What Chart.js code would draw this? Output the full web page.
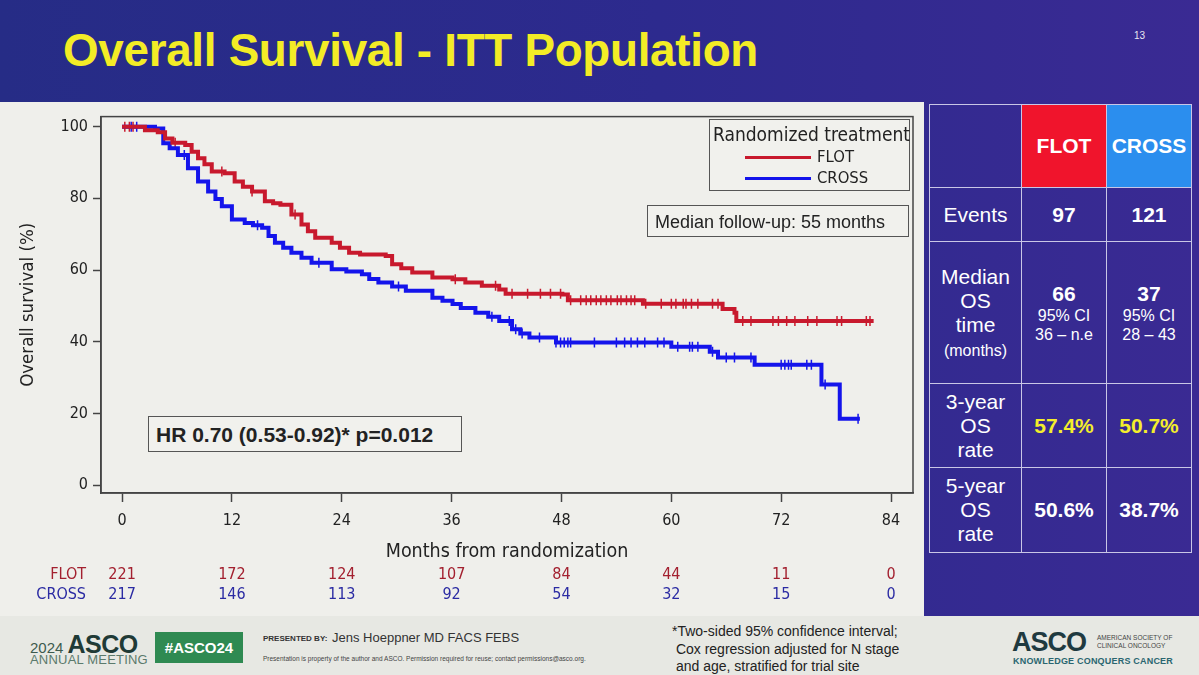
<!DOCTYPE html>
<html>
<head>
<meta charset="utf-8">
<script src="https://cdn.jsdelivr.net/npm/chart.js@4.4.1/dist/chart.umd.min.js"></script>
<style>
  body { margin: 0; width: 1199px; height: 675px; overflow: hidden; font-family: "Liberation Sans", Arial, sans-serif; }
  #slide { position: relative; width: 1199px; height: 675px; background: linear-gradient(90deg, #262c86 0%, #2d2a8e 55%, #3a2a93 100%); }
  #title { position: absolute; left: 63px; top: 25px; color: #f3ec26; font-weight: bold; font-size: 45.8px; letter-spacing: -0.3px; white-space: nowrap; }
  #pageno { position: absolute; left: 1134px; top: 30px; color: #e8e8f0; font-size: 10px; }
  #panel { position: absolute; left: 0; top: 102px; width: 924px; height: 573px; background: #efefeb; }
  #strip { position: absolute; left: 0; top: 616px; width: 1199px; height: 59px; background: #e7e8e3; }
  #chartWrap { position: absolute; left: 0; top: 102px; width: 925px; height: 513px; }
  .box { position: absolute; border: 1px solid #555; background: #f1f1ed; color: #222; white-space: nowrap; }
  #legend { left: 709px; top: 119px; width: 199px; height: 70px; font-family: "Liberation Sans Narrow", "DejaVu Sans Condensed", sans-serif; }
  #legend .hd { position: absolute; left: 3px; top: 3px; font-size: 19px; }
  #legend .row { position: absolute; left: 35px; font-size: 16.5px; }
  #legend .sw { display: inline-block; width: 66px; height: 3px; vertical-align: middle; margin-right: 6px; }
  #median { left: 647px; top: 205px; width: 262px; height: 32px; font-size: 18px; line-height: 32px; padding-left: 7px; box-sizing: border-box; }
  #hr { left: 148px; top: 416px; width: 314px; height: 36px; font-size: 21px; font-weight: bold; line-height: 36px; padding-left: 7px; box-sizing: border-box; }
  #tbl { position: absolute; left: 929px; top: 104px; border-collapse: collapse; color: #fff; text-align: center; }
  #tbl td { border: 1.5px solid #c9c6e6; padding: 0; vertical-align: middle; }
  #tbl .lab { font-size: 21px; line-height: 24px; }
  #tbl .big { font-size: 21px; font-weight: bold; }
  #tbl .sm { font-size: 16px; line-height: 19px; }
  #tbl .yel { color: #f4ee2b; }
  #foot div { position: absolute; white-space: nowrap; }
</style>
</head>
<body>
<div id="slide">
  <div id="title">Overall Survival - ITT Population</div>
  <div id="pageno">13</div>
  <div id="panel"></div>
  <div id="strip"></div>
  <div id="chartWrap"><canvas id="km"></canvas></div>

  <div id="legend" class="box">
    <div class="hd">Randomized treatment</div>
    <div class="row" style="top:27px"><span class="sw" style="background:#c8192d"></span>FLOT</div>
    <div class="row" style="top:48px"><span class="sw" style="background:#1414eb"></span>CROSS</div>
  </div>
  <div id="median" class="box">Median follow-up: 55 months</div>
  <div id="hr" class="box">HR 0.70 (0.53-0.92)* p=0.012</div>

  <table id="tbl">
    <tr style="height:83px">
      <td style="width:91px"></td>
      <td style="width:84px;background:#f0142c" class="big">FLOT</td>
      <td style="width:84px;background:#2b8eee" class="big">CROSS</td>
    </tr>
    <tr style="height:54px">
      <td class="lab">Events</td><td class="big">97</td><td class="big">121</td>
    </tr>
    <tr style="height:142px">
      <td class="lab">Median<br>OS<br>time<br><span class="sm">(months)</span></td>
      <td><span class="big">66</span><br><span class="sm">95% CI<br>36 – n.e</span></td>
      <td><span class="big">37</span><br><span class="sm">95% CI<br>28 – 43</span></td>
    </tr>
    <tr style="height:84px">
      <td class="lab">3-year<br>OS<br>rate</td><td class="big yel">57.4%</td><td class="big yel">50.7%</td>
    </tr>
    <tr style="height:85px">
      <td class="lab">5-year<br>OS<br>rate</td><td class="big">50.6%</td><td class="big">38.7%</td>
    </tr>
  </table>

  <div id="foot">
    <div style="left:30px;top:630px;color:#3d5a4e;font-size:15px">2024 <b style="font-size:25px;color:#1f3a36;letter-spacing:-0.5px">ASCO</b></div>
    <div style="left:30px;top:652px;color:#5b7a6c;font-size:13px;letter-spacing:0.2px">ANNUAL MEETING</div>
    <div style="left:155px;top:632px;width:88px;height:31px;background:#2f8a52;color:#fff;font-weight:bold;font-size:15px;line-height:31px;text-align:center">#ASCO24</div>
    <div style="left:263px;top:634px;color:#333;font-size:8px;font-weight:bold">PRESENTED BY:</div>
    <div style="left:332px;top:630px;color:#333;font-size:13px">Jens Hoeppner MD FACS FEBS</div>
    <div style="left:263px;top:655px;color:#444;font-size:6.5px">Presentation is property of the author and ASCO. Permission required for reuse; contact permissions@asco.org.</div>
    <div style="left:672px;top:623px;color:#222;font-size:14px;line-height:17.5px">*Two-sided 95% confidence interval;<br>&nbsp;Cox regression adjusted for N stage<br>&nbsp;and age, stratified for trial site</div>
    <div style="left:1012px;top:627px;color:#1f3a40;font-size:27px;font-weight:bold;letter-spacing:-1px">ASCO</div>
    <div style="left:1097px;top:634px;color:#444;font-size:6.5px;line-height:8px">AMERICAN SOCIETY OF<br>CLINICAL ONCOLOGY</div>
    <div style="left:1013px;top:656px;color:#2a6670;font-size:9px;font-weight:bold;letter-spacing:0.2px">KNOWLEDGE CONQUERS CANCER</div>
  </div>
</div>

<script>
//  tick labels and at-risk table
const months = [0, 12, 24, 36, 48, 60, 72, 84];
const survTicks = [0, 20, 40, 60, 80, 100];
const flotAtRisk = [221, 172, 124, 107, 84, 44, 11, 0];
const crossAtRisk = [217, 146, 113, 92, 54, 32, 15, 0];

//  Kaplan-Meier steps (month, survival %)
const flotTime = [0, 2.5, 3.9, 4.7, 5.5, 6.9, 7.6, 8.3, 9.0, 9.8, 11.2, 12.3, 13.2, 14.2, 15.6, 16.5, 17.3, 18.5, 19.6, 20.3, 21.1, 22.9, 23.8, 24.8, 26.0, 28.8, 29.5, 30.5, 31.7, 33.9, 36.1, 37.5, 39.3, 41.2, 41.9, 48.1, 48.7, 56.9, 65.6, 66.9, 67.1, 82.1];
const flotSurv = [100, 99, 98.4, 96.7, 95.5, 94.9, 93, 91.2, 89.5, 87.5, 87, 84.7, 83.2, 81.9, 79.2, 78.6, 78.2, 75.5, 72.7, 70.8, 69, 67.6, 66.2, 64.8, 64.3, 63.9, 61.6, 60.5, 59.3, 57.9, 57.4, 56.5, 55.6, 54.6, 53.4, 53.2, 51.6, 50.6, 49.1, 48.1, 45.8, 45.8];
const crossTime = [0, 3.6, 4.5, 5.2, 6.1, 7.2, 8.3, 9.4, 10.2, 10.9, 12.0, 13.4, 14.3, 15.3, 16.0, 16.7, 17.6, 18.5, 19.6, 20.7, 22.9, 24.5, 26.2, 27.0, 28.0, 29.5, 31.0, 33.9, 35.0, 36.1, 37.0, 38.6, 40.0, 41.2, 42.6, 43.5, 44.5, 47.4, 60.0, 64.2, 65.1, 69.1, 76.4, 78.4, 80.6];
const crossSurv = [100, 99.5, 95.4, 94, 92.1, 88.4, 84.7, 81.9, 79.8, 77.8, 74.1, 73.1, 72.5, 71.8, 69.5, 67.6, 66.2, 64.8, 63.4, 62, 60.2, 59.6, 58.8, 57.5, 56.5, 55.4, 54.2, 52.3, 51.4, 50.5, 49.4, 48.1, 47, 45.8, 43.5, 42.3, 41.2, 39.8, 38.6, 37.2, 35.6, 33.6, 28.1, 18.5, 18.5];

//  censoring times (months)
const flotCensor = [0.3, 0.8, 1.2, 5.8, 10.9, 14.2, 18.9, 36.4, 40.8, 42.6, 44.3, 45.7, 46.8, 47.9, 49.0, 50.1, 50.7, 51.2, 51.8, 52.3, 52.9, 53.4, 54.1, 54.5, 55.1, 55.6, 56.0, 57.2, 58.9, 60.0, 60.5, 61.3, 61.6, 62.2, 62.9, 64.5, 65.1, 67.8, 68.7, 71.1, 71.7, 72.6, 73.5, 74.9, 75.9, 78.1, 78.6, 81.3, 81.7];
const crossCensor = [1.0, 1.6, 6.8, 14.8, 21.5, 30.2, 40.4, 42.3, 43.0, 43.7, 45.6, 47.4, 47.9, 48.3, 48.7, 49.0, 51.6, 54.0, 54.9, 55.6, 56.3, 57.1, 58.5, 59.2, 60.7, 62.0, 62.3, 62.9, 64.5, 66.0, 66.9, 68.7, 72.0, 72.4, 72.8, 73.1, 74.8, 75.3, 76.8, 80.4];

const flotColor = 'rgb(200, 25, 45)';
const crossColor = 'rgb(20, 20, 235)';
const narrow = '"Liberation Sans Narrow", "DejaVu Sans Condensed", sans-serif';

//  survival value in effect at time t
function survAt(times, surv, t) {
    let s = surv[0];
    for (let i = 0; i < times.length; i++) {
        if (times[i] <= t) s = surv[i];
    }
    return s;
}

function steps(times, surv) {
    return times.map((t, i) => ({ x: t, y: surv[i] }));
}

function marks(censor, times, surv) {
    return censor.map(t => ({ x: t, y: survAt(times, surv, t) }));
}

//  box around the plot area
const frame = {
    id: 'frame',
    afterDraw(chart) {
        const a = chart.chartArea, c = chart.ctx;
        c.save();
        c.strokeStyle = '#444';
        c.lineWidth = 1.5;
        c.strokeRect(a.left, a.top, a.right - a.left, a.bottom - a.top);
        c.restore();
    }
};

//  numbers at risk under the x axis
const riskTable = {
    id: 'riskTable',
    afterDraw(chart) {
        const c = chart.ctx, x = chart.scales.x;
        const rows = [['FLOT', flotAtRisk, '#a3202f', 473], ['CROSS', crossAtRisk, '#2b2ba3', 493]];
        c.save();
        c.font = '16px ' + narrow;
        c.textBaseline = 'middle';
        rows.forEach(r => {
            c.fillStyle = r[2];
            c.textAlign = 'right';
            c.fillText(r[0], 86, r[3]);
            c.textAlign = 'center';
            r[1].forEach((n, i) => c.fillText(String(n), x.getPixelForValue(months[i]), r[3]));
        });
        c.restore();
    }
};

new Chart(document.getElementById('km'), {
    type: 'line',
    data: {
        datasets: [
            { label: 'FLOT', data: steps(flotTime, flotSurv), borderColor: flotColor, borderWidth: 4, stepped: true, pointRadius: 0, fill: false },
            { label: 'CROSS', data: steps(crossTime, crossSurv), borderColor: crossColor, borderWidth: 4, stepped: true, pointRadius: 0, fill: false },
            { label: 'FLOT censored', data: marks(flotCensor, flotTime, flotSurv), showLine: false, pointStyle: 'line', rotation: 90, pointRadius: 5, borderColor: flotColor, pointBorderWidth: 1.5 },
            { label: 'CROSS censored', data: marks(crossCensor, crossTime, crossSurv), showLine: false, pointStyle: 'line', rotation: 90, pointRadius: 5, borderColor: crossColor, pointBorderWidth: 1.5 }
        ]
    },
    options: {
        responsive: true,
        maintainAspectRatio: false,
        animation: false,
        layout: { padding: { left: 0, top: 13, right: 12, bottom: 0 } },
        plugins: { legend: { display: false }, tooltip: { enabled: false } },
        scales: {
            x: {
                type: 'linear',
                min: -2.3,
                max: 86.4,
                afterBuildTicks: s => { s.ticks = months.map(v => ({ value: v })); },
                afterFit: s => { s.height = 122; },
                grid: { drawOnChartArea: false, tickLength: 9, tickColor: '#444', tickWidth: 1.5 },
                border: { color: '#444', width: 1.5 },
                ticks: { color: '#222', padding: 9, font: { size: 16, family: narrow } },
                title: { display: true, text: 'Months from randomization', color: '#222', font: { size: 19.5, family: narrow }, padding: { top: 0, bottom: 51 } }
            },
            y: {
                min: -2.2,
                max: 102.8,
                afterBuildTicks: s => { s.ticks = survTicks.map(v => ({ value: v })); },
                afterFit: s => { s.width = 101; },
                grid: { drawOnChartArea: false, tickLength: 8, tickColor: '#444', tickWidth: 1.5 },
                border: { color: '#444', width: 1.5 },
                ticks: { color: '#222', padding: 5, font: { size: 16, family: narrow } },
                title: { display: true, text: 'Overall survival (%)', color: '#222', font: { size: 18.5, family: narrow }, padding: { top: 17, bottom: 0 } }
            }
        }
    },
    plugins: [frame, riskTable]
});
</script>
</body>
</html>
